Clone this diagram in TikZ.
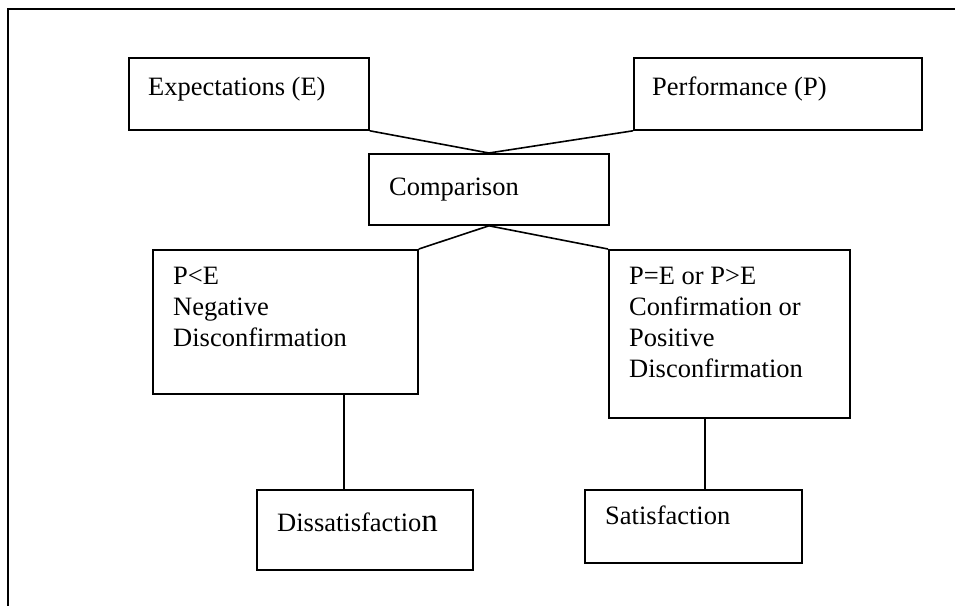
\documentclass[tikz,border=0pt]{standalone}
\usepackage{fontspec}
\setmainfont{Liberation Serif}
\usepackage{tikz}

\begin{document}
\begin{tikzpicture}[x=1pt,y=-1pt,
  box/.style={draw,line width=1.8pt,inner sep=0pt,anchor=north west},
  txt/.style={anchor=base west,inner sep=0pt,font=\fontsize{26.5}{30}\selectfont},
  link/.style={line width=1.6pt}]
\useasboundingbox (0,0) rectangle (955,606);
\draw[line width=2.8pt] (955,9) -- (8,9) -- (8,606);

% boxes
\node[box,minimum width=240pt,minimum height=72pt] (exp) at (128,57) {};
\node[box,minimum width=288pt,minimum height=72pt] (perf) at (633,57) {};
\node[box,minimum width=240pt,minimum height=71pt] (cmp) at (368,153) {};
\node[box,minimum width=265pt,minimum height=144pt] (neg) at (152,249) {};
\node[box,minimum width=241pt,minimum height=168pt] (pos) at (608,249) {};
\node[box,minimum width=216pt,minimum height=80pt] (dis) at (256,489) {};
\node[box,minimum width=217pt,minimum height=73pt] (sat) at (584,489) {};

% texts
\node[txt] (exptxt) at (148,95) {Expectations (E)};
\node[txt] (perftxt) at (652,95) {Performance (P)};
\node[txt] (cmptxt) at (389,195) {Comparison};
\foreach \t [count=\i] in {P<E, Negative, Disconfirmation} {
\node[txt] (neg\i) at (173, 284+31*\i-31) {\t};
}
\foreach \t [count=\i] in {P=E or P>E, Confirmation or, Positive, Disconfirmation} {
\node[txt] (pos\i) at (629, 284+31*\i-31) {\t};
}
\node[txt] (distxt) at (277,531) {Dissatisfactio{\fontsize{33}{33}\selectfont n}};
\node[txt] (sattxt) at (605,524) {Satisfaction};

% links
\draw[link] (exp.south east) -- (cmp.north);
\draw[link] (perf.south west) -- (cmp.north);
\draw[link] (cmp.south) -- (neg.north east);
\draw[link] (cmp.south) -- (pos.north west);
\coordinate (negdrop) at (344,393);
\coordinate (posdrop) at (705,417);
\draw[link] (negdrop) -- (negdrop |- dis.north);
\draw[link] (posdrop) -- (posdrop |- sat.north);

\end{tikzpicture}
\end{document}
